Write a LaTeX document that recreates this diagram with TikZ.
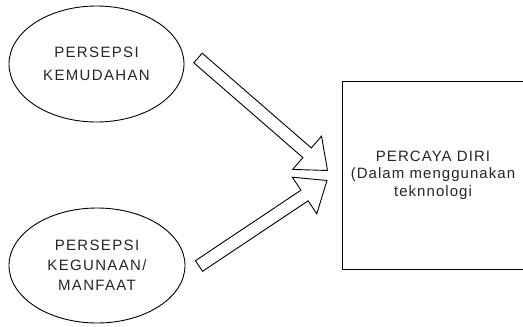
\documentclass[tikz,border=0pt]{standalone}
\usepackage{fontspec}
\setmainfont{Liberation Sans}
\newfontfamily\ovalfont[LetterSpace=9]{Liberation Sans}
\newfontfamily\boxfont[LetterSpace=7]{Liberation Sans}
\usetikzlibrary{calc,shapes.geometric}

% hollow block arrow from #1 (tail centre) to #2 (tip)
\newcommand{\blockarrow}[2]{%
  \draw[arrowline]
    ($(#1)!6.4pt!90:(#2)$) --
    ($($(#2)!27pt!(#1)$)!6.4pt!90:(#2)$) --
    ($($(#2)!27pt!(#1)$)!22pt!90:(#2)$) --
    (#2) --
    ($($(#2)!27pt!(#1)$)!22pt!-90:(#2)$) --
    ($($(#2)!27pt!(#1)$)!6.4pt!-90:(#2)$) --
    ($(#1)!6.4pt!-90:(#2)$) -- cycle;}

\tikzset{
  factor/.style={ellipse, draw=black, line width=0.9pt, inner sep=0pt,
    align=center, text=black!85, font=\ovalfont\fontsize{15}{20}\selectfont},
  target/.style={rectangle, draw=black, line width=0.9pt, inner sep=0pt,
    align=center, text=black!85, font=\boxfont\fontsize{15}{17.5}\selectfont},
  arrowline/.style={draw=black, line width=0.9pt, line join=miter, fill=white},
}

\begin{document}
\begin{tikzpicture}[x=1pt, y=-1pt]
  \useasboundingbox (0,0) rectangle (523,327);
  \clip (0,0) rectangle (523,327);

  % influencing factors
  \node[factor, minimum width=175pt, minimum height=116pt,
        font=\ovalfont\fontsize{15}{22.4}\selectfont]
        (kemudahan) at (96.5,64) {PERSEPSI\\KEMUDAHAN};
  \node[factor, minimum width=176pt, minimum height=115pt]
        (kegunaan) at (97,265.5) {PERSEPSI\\KEGUNAAN/\\MANFAAT};

  % outcome
  \node[target, minimum width=182pt, minimum height=188pt]
        (percaya) at (433,175) {PERCAYA DIRI\\(Dalam menggunakan\\teknnologi};

  % block arrows
  \coordinate (tailA) at (198,58);
  \coordinate (tipA)  at (327.5,170.5);
  \coordinate (tailB) at (199,266);
  \coordinate (tipB)  at (327,180.5);
  \blockarrow{tailA}{tipA}
  \blockarrow{tailB}{tipB}
\end{tikzpicture}
\end{document}
